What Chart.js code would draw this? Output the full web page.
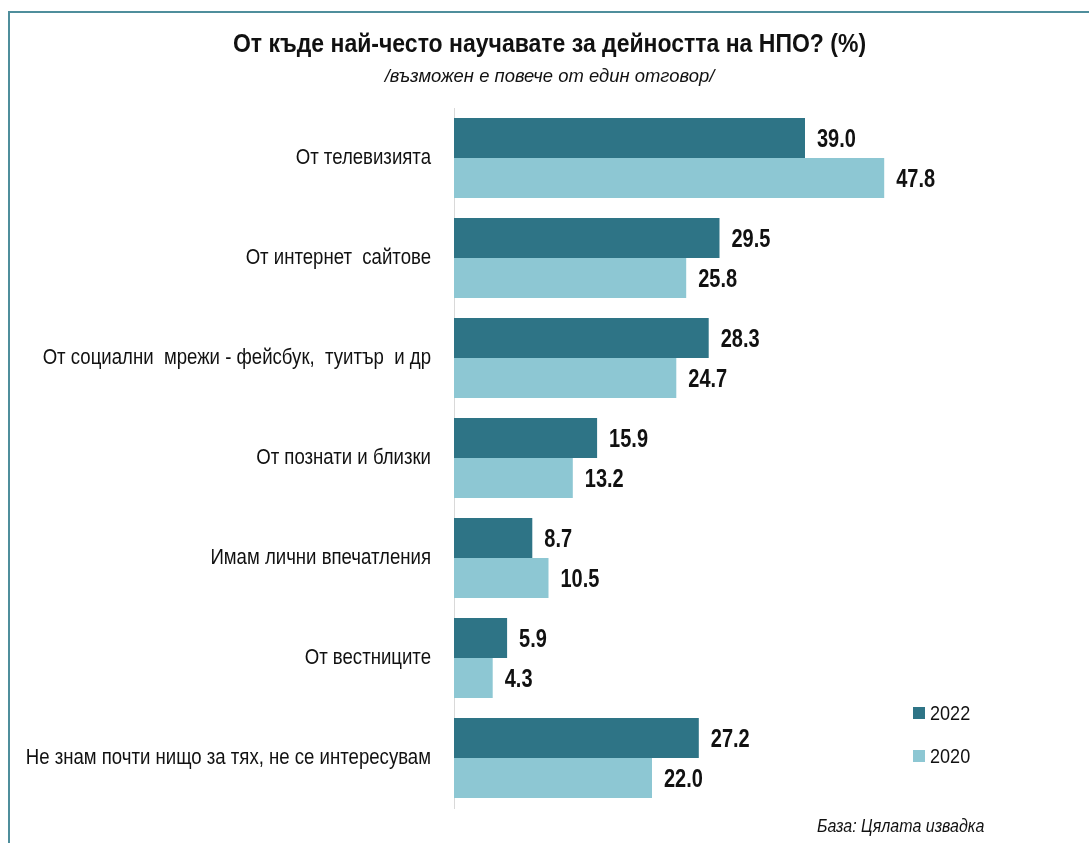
<!DOCTYPE html>
<html>
<head>
<meta charset="utf-8">
<script src="https://cdn.jsdelivr.net/npm/chart.js@4/dist/chart.umd.min.js"></script>
<style>
  body { margin: 0; background: #fff; }
  #wrap { position: relative; width: 1089px; height: 843px; overflow: hidden; font-family: "Liberation Sans", Arial, sans-serif; color: #111; }
  #frame { position: absolute; left: 8px; top: 11px; width: 1200px; height: 900px;
           border-top: 2px solid #4F8E9C; border-left: 2px solid #4F8E9C; }
  #chart { position: absolute; left: 0; top: 0; }
  .head { position: absolute; left: 10px; width: 1079px; text-align: center; white-space: nowrap; }
  #title { top: 29px; font-size: 25px; font-weight: bold; transform: scaleX(0.92); }
  #subtitle { top: 65px; font-size: 19px; font-style: italic; transform: scaleX(0.97); }
  #legend { position: absolute; left: 913px; top: 700px; font-size: 21px; }
  .item { display: flex; align-items: center; height: 26px; margin-bottom: 17px; }
  .box { width: 12px; height: 12px; margin-right: 5px; }
  .lbl { display: inline-block; transform: scaleX(0.86); transform-origin: left center; }
  #note { position: absolute; left: 817px; top: 816px; font-style: italic; font-size: 18px;
          transform: scaleX(0.89); transform-origin: left center; white-space: nowrap; }
</style>
</head>
<body>
<div id="wrap">
  <div id="frame"></div>
  <canvas id="chart" width="1089" height="843"></canvas>
  <div class="head" id="title">От къде най-често научавате за дейността на НПО? (%)</div>
  <div class="head" id="subtitle">/възможен е повече от един  отговор/</div>
  <div id="legend"></div>
  <div id="note">База: Цялата извадка</div>
</div>
<script>
const categories = [
  "От телевизията",
  "От интернет  сайтове",
  "От социални  мрежи - фейсбук,  туитър  и др",
  "От познати и близки",
  "Имам лични впечатления",
  "От вестниците",
  "Не знам почти нищо за тях, не се интересувам"
];
const series_names = ["2022", "2020"];
const values_2022 = [39.0, 29.5, 28.3, 15.9, 8.7, 5.9, 27.2];
const values_2020 = [47.8, 25.8, 24.7, 13.2, 10.5, 4.3, 22.0];
const chart_colours = ["#2E7486", "#8DC7D3"];

// text squeezed horizontally, to look like Arial Narrow
function narrowText(ctx, text, x, y, font, sx, align) {
  ctx.save();
  ctx.translate(x, y);
  ctx.scale(sx, 1);
  ctx.font = font;
  ctx.fillStyle = "#111";
  ctx.textAlign = align;
  ctx.textBaseline = "middle";
  ctx.fillText(text, 0, 0);
  ctx.restore();
}

// value labels at the end of each bar + category labels
const barLabels = {
  id: "barLabels",
  afterDatasetsDraw(chart) {
    const ctx = chart.ctx;
    chart.data.datasets.forEach((ds, i) => {
      chart.getDatasetMeta(i).data.forEach((bar, j) => {
        narrowText(ctx, ds.data[j].toFixed(1), bar.x + 12, bar.y + 2,
          'bold 25px "Liberation Sans", Arial, sans-serif', 0.8, "left");
      });
    });
    const yScale = chart.scales.y;
    chart.data.labels.forEach((lab, i) => {
      narrowText(ctx, lab, yScale.right - 23, yScale.getPixelForTick(i),
        '21.5px "Liberation Sans", Arial, sans-serif', 0.865, "right");
    });
  }
};

const ctx = document.getElementById("chart").getContext("2d");
const barChart = new Chart(ctx, {
  type: "bar",
  data: {
    labels: categories,
    datasets: [
      { label: series_names[0], data: values_2022, backgroundColor: chart_colours[0] },
      { label: series_names[1], data: values_2020, backgroundColor: chart_colours[1] }
    ]
  },
  options: {
    indexAxis: "y",
    responsive: false,
    animation: false,
    datasets: { bar: { categoryPercentage: 0.8, barPercentage: 1.0 } },
    layout: { padding: { left: 0, right: 140, bottom: 35, top: 108 } },
    plugins: {
      legend: { display: false },
      tooltip: { enabled: false }
    },
    scales: {
      x: { display: false, min: 0, max: 55 },
      y: {
        afterFit: (s) => { s.width = 454; },
        grid: { display: false, drawTicks: false },
        border: { display: true, color: "#D9D9D9", width: 1 },
        ticks: { display: false }   // drawn narrow by barLabels
      }
    }
  },
  plugins: [barLabels]
});

// legend
const legend = document.getElementById("legend");
barChart.data.datasets.forEach((ds) => {
  const item = document.createElement("div");
  item.className = "item";
  item.innerHTML = '<span class="box" style="background:' + ds.backgroundColor + '"></span><span class="lbl">' + ds.label + '</span>';
  legend.appendChild(item);
});
</script>
</body>
</html>
